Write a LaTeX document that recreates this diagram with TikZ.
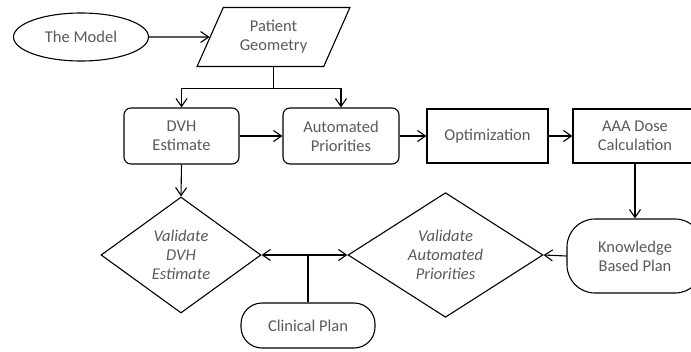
\documentclass[tikz,border=0pt]{standalone}
\usepackage{fontspec}
\setmainfont{Carlito}
\usetikzlibrary{shapes.geometric,arrows.meta,calc}
\definecolor{txt}{HTML}{595959}
\tikzset{
  base/.style={draw=black, line width=1.1pt, inner sep=0pt, align=center, text=txt,
    font=\fontsize{16.5}{19}\selectfont},
  rbox/.style={base, rectangle, rounded corners=7pt},
  sbox/.style={base, rectangle},
  term/.style={base, rectangle, rounded corners=21pt},
  dec/.style={base, diamond, font=\fontsize{16.5}{19}\selectfont\itshape},
  conn/.style={line width=1.1pt, draw=black},
  arr/.style={conn, -{Straight Barb[length=8pt,width=11pt,line width=1.1pt]}},
}
\begin{document}
\begin{tikzpicture}[x=1pt,y=-1pt]
\useasboundingbox (0,0) rectangle (691,351);
\node[base, ellipse, minimum width=135pt, minimum height=48pt] (model) at (81,37) {The Model};
\node[base, trapezium, trapezium left angle=62, trapezium right angle=118,
      trapezium stretches=true, minimum width=153pt, minimum height=59pt] (geom) at (273.5,37) {Patient\\Geometry};
\node[rbox, minimum width=115pt, minimum height=56pt] (dvh) at (181.5,136) {DVH\\Estimate};
\node[rbox, minimum width=116pt, minimum height=56pt] (ap) at (341,136) {Automated\\Priorities};
\node[sbox, minimum width=121pt, minimum height=54pt] (opt) at (487.5,136) {Optimization};
\node[sbox, minimum width=124pt, minimum height=54pt] (aaa) at (635,136) {AAA Dose\\Calculation};
\node[term, rounded corners=28pt, minimum width=136pt, minimum height=74pt] (kbp) at (635,256) {Knowledge\\Based Plan};
\node[dec, minimum width=160pt, minimum height=116pt] (vdvh) at (181,255) {Validate\\DVH\\Estimate};
\node[dec, minimum width=195pt, minimum height=115pt] (vap) at (445.5,255) {Validate\\Automated\\Priorities};
\node[term, minimum width=134pt, minimum height=45pt] (clin) at (308,325.5) {Clinical Plan};

\draw[arr] (model.east) -- (geom.west);
\draw[conn] (geom.south) -- ++(0,21) coordinate (split);
\draw[arr] (split) -| (dvh.north);
\draw[arr] (split) -| (ap.north);
\draw[arr] (dvh.east) -- (ap.west);
\draw[arr] (ap.east) -- (opt.west);
\draw[arr] (opt.east) -- (aaa.west);
\draw[arr] (aaa.south) -- (kbp.north);
\draw[arr] (kbp.west) -- (vap.east);
\draw[arr] (dvh.south) -- (vdvh.north);
\coordinate (junc) at (clin.north |- vdvh.east);
\draw[conn] (clin.north) -- (junc);
\draw[arr] (junc) -- (vdvh.east);
\draw[arr] (junc) -- (vap.west);
\end{tikzpicture}
\end{document}
